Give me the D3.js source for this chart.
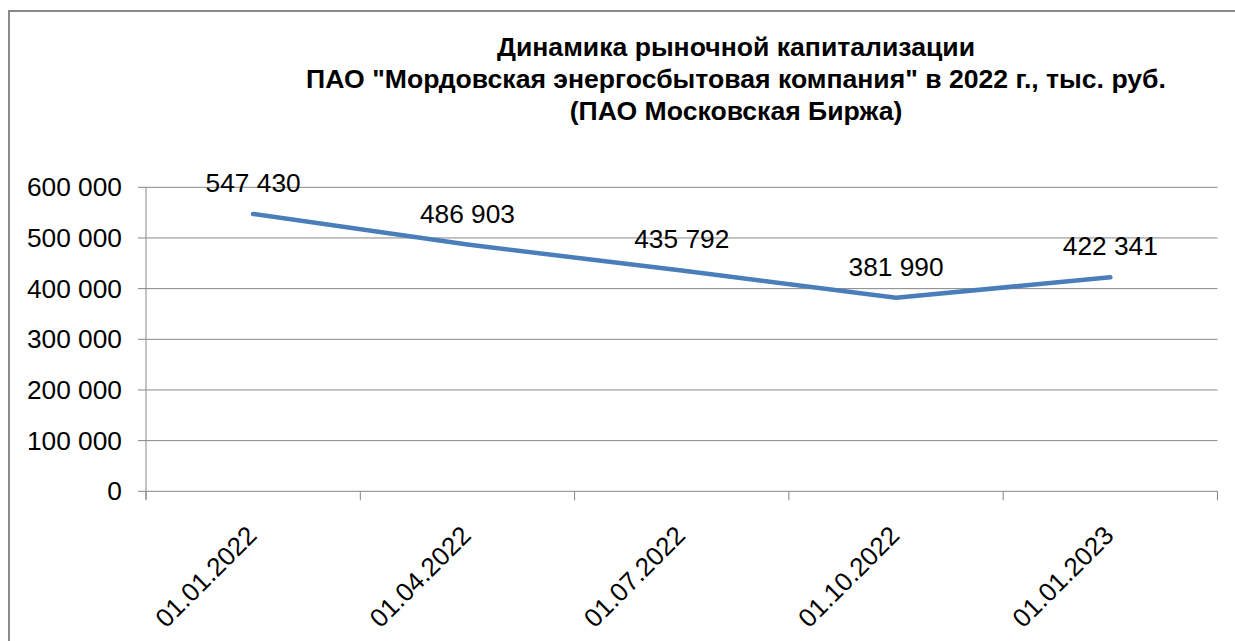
<!DOCTYPE html>
<html>
<head>
<meta charset="utf-8">
<script src="https://cdn.jsdelivr.net/npm/d3@7"></script>
<style>
  html, body { margin: 0; padding: 0; background: #fff; }
  svg { display: block; font-family: Arial, "Liberation Sans", sans-serif; }
</style>
</head>
<body>
<svg id="chart" width="1235" height="641"></svg>
<script>
const categories = ["01.01.2022", "01.04.2022", "01.07.2022", "01.10.2022", "01.01.2023"];
const values = [547430, 486903, 435792, 381990, 422341];
const valueLabels = ["547 430", "486 903", "435 792", "381 990", "422 341"];
const yTicks = [0, 100000, 200000, 300000, 400000, 500000, 600000];
const yTickLabels = ["0", "100 000", "200 000", "300 000", "400 000", "500 000", "600 000"];
const titleLines = [
  "Динамика рыночной капитализации",
  "ПАО \"Мордовская энергосбытовая компания\" в 2022 г., тыс. руб.",
  "(ПАО Московская Биржа)"
];

(function () {
const svg = d3.select("#chart");
const pLeft = 146, pRight = 1217.5, pTop = 187.3, pBottom = 491.3;
const grey = "#868686";

// outer frame
svg.append("rect")
  .attr("x", 9).attr("y", 11)
  .attr("width", 1300).attr("height", 700)
  .attr("fill", "#fff").attr("stroke", "#8a8a8a").attr("stroke-width", 2);

const x = d3.scaleBand().domain(categories).range([pLeft, pRight]).paddingInner(0).paddingOuter(0);
const y = d3.scaleLinear().domain([0, 600000]).range([pBottom, pTop]);

// gridlines
svg.append("g").selectAll("line").data(yTicks).join("line")
  .attr("x1", pLeft - 8).attr("x2", pRight)
  .attr("y1", d => y(d)).attr("y2", d => y(d))
  .attr("stroke", grey).attr("stroke-width", 1);

// y axis line
svg.append("line").attr("x1", pLeft).attr("x2", pLeft).attr("y1", pTop).attr("y2", pBottom + 8)
  .attr("stroke", grey).attr("stroke-width", 1);

// x ticks at category boundaries
const bounds = categories.map(c => x(c)).concat([pRight]);
svg.append("g").selectAll("line").data(bounds).join("line")
  .attr("x1", d => d).attr("x2", d => d)
  .attr("y1", pBottom).attr("y2", pBottom + 9)
  .attr("stroke", grey).attr("stroke-width", 1);

// y tick labels
svg.append("g").selectAll("text").data(yTicks).join("text")
  .attr("x", 122).attr("y", d => y(d) + 9)
  .attr("text-anchor", "end")
  .attr("font-size", 26.3).attr("fill", "#000")
  .text((d, i) => yTickLabels[i]);

// x labels
svg.append("g").selectAll("text").data(categories).join("text")
  .attr("transform", d => `translate(${x(d) + x.bandwidth() / 2 + 5},537) rotate(-45)`)
  .attr("text-anchor", "end")
  .attr("font-size", 26).attr("fill", "#000")
  .text(d => d);

// line
const line = d3.line()
  .x((d, i) => x(categories[i]) + x.bandwidth() / 2)
  .y(d => y(d));
svg.append("path").datum(values)
  .attr("d", line)
  .attr("fill", "none").attr("stroke", "#4A7EBB").attr("stroke-width", 4.5)
  .attr("stroke-linejoin", "round").attr("stroke-linecap", "round");

// data labels
svg.append("g").selectAll("text").data(values).join("text")
  .attr("x", (d, i) => x(categories[i]) + x.bandwidth() / 2)
  .attr("y", d => y(d) - 22)
  .attr("text-anchor", "middle")
  .attr("font-size", 26.3).attr("fill", "#000")
  .text((d, i) => valueLabels[i]);

// title
svg.append("g").selectAll("text").data(titleLines).join("text")
  .attr("x", 736).attr("y", (d, i) => 56 + i * 32)
  .attr("text-anchor", "middle")
  .attr("font-size", 26.6).attr("font-weight", "bold").attr("fill", "#000")
  .text(d => d);
})();
</script>
</body>
</html>
